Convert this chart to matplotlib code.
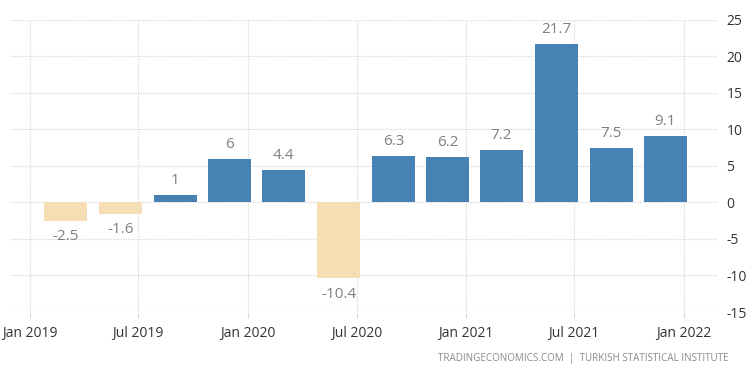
import matplotlib
matplotlib.use("Agg")
import matplotlib.pyplot as plt
import matplotlib.dates as mdates
import numpy as np
from datetime import datetime

quarters = ["2019-03-01", "2019-06-01", "2019-09-01", "2019-12-01",
            "2020-03-01", "2020-06-01", "2020-09-01", "2020-12-01",
            "2021-03-01", "2021-06-01", "2021-09-01", "2021-12-01"]
values = [-2.5, -1.6, 1, 6, 4.4, -10.4, 6.3, 6.2, 7.2, 21.7, 7.5, 9.1]
labels = ["-2.5", "-1.6", "1", "6", "4.4", "-10.4", "6.3", "6.2", "7.2", "21.7", "7.5", "9.1"]
xticks = ["2019-01-01", "2019-07-01", "2020-01-01", "2020-07-01",
          "2021-01-01", "2021-07-01", "2022-01-01"]
xticklabels = ["Jan 2019", "Jul 2019", "Jan 2020", "Jul 2020",
               "Jan 2021", "Jul 2021", "Jan 2022"]
yticks = [-15, -10, -5, 0, 5, 10, 15, 20, 25]

plt.rcParams['font.family'] = ['Open Sans', 'DejaVu Sans']

fig = plt.figure(figsize=(7.5, 3.75), dpi=100)
ax = fig.add_axes([0.0133, 0.168, 0.944, 0.779])

dates = [mdates.date2num(datetime.strptime(d, "%Y-%m-%d")) for d in quarters]
colors = ["#4682b4" if v >= 0 else "#f5deb3" for v in values]
ax.bar(dates, values, width=72, color=colors, zorder=2)

for x, v, t in zip(dates, values, labels):
    if v >= 0:
        ax.annotate(t, (x, v), xytext=(0, 5), textcoords="offset points",
                    ha="center", va="bottom", fontsize=11, color="#808080")
    else:
        ax.annotate(t, (x, v), xytext=(0, -6), textcoords="offset points",
                    ha="center", va="top", fontsize=11, color="#808080")

xt = [mdates.date2num(datetime.strptime(d, "%Y-%m-%d")) for d in xticks]
ax.set_xticks(xt)
ax.set_xticklabels(xticklabels)
ax.set_xlim(mdates.date2num(datetime(2018, 11, 28)), mdates.date2num(datetime(2022, 2, 27)))
ax.set_ylim(-15, 25)
ax.set_yticks(yticks)
ax.set_yticklabels([str(t) for t in yticks])
ax.yaxis.tick_right()

ax.grid(True, color="#d9d9d9", linestyle=(0, (1, 1)), linewidth=0.9, zorder=0)
for s in ax.spines.values():
    s.set_visible(False)
ax.tick_params(axis="y", length=0, pad=6, labelsize=10, labelcolor="#333333")
ax.tick_params(axis="x", length=4, color="#d9d9d9", pad=6, labelsize=10, labelcolor="#333333")

fig.text(0.971, 0.043, "TRADINGECONOMICS.COM  |  TURKISH STATISTICAL INSTITUTE",
         ha="right", va="center", fontsize=7.1, color="#8a8a8a")

fig.savefig("out.png", dpi=100)
